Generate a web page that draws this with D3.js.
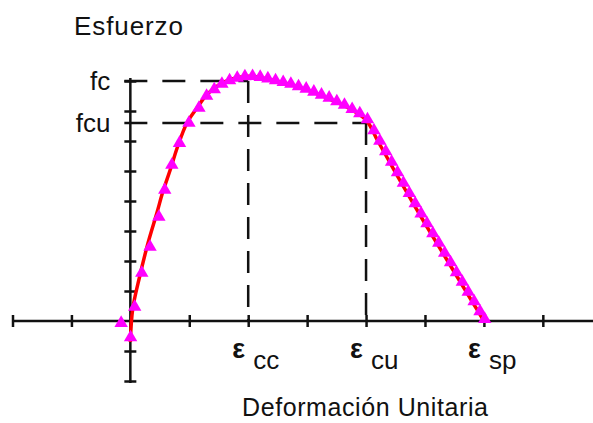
<!DOCTYPE html>
<html>
<head>
<meta charset="utf-8">
<script src="https://cdn.jsdelivr.net/npm/d3@7"></script>
<style>
  html, body { margin: 0; padding: 0; background: #fff; }
  svg { display: block; }
  text { font-family: "Liberation Sans", Arial, sans-serif; fill: #111; }
</style>
</head>
<body>
<svg id="chart" width="593" height="423"></svg>
<script>
// Stress–strain curve of concrete: fitted curve (red) and test points (magenta)
const fitStrain = [0, 0.04, 0.16, 0.3, 0.45, 0.55, 0.67, 0.8, 0.96, 1.13, 1.3, 1.5, 1.7, 1.9, 2.0,
                   2.2, 2.5, 2.8, 3.1, 3.4, 3.7, 4.0, 4.2, 4.4, 4.6, 4.8, 5.0, 5.2, 5.4, 5.6, 5.8, 6.0];
const fitStress = [-0.7, 0.4, 1.5, 2.6, 3.6, 4.3, 5.0, 5.8, 6.6, 7.1, 7.55, 7.87, 8.05, 8.14, 8.16,
                   8.12, 7.99, 7.83, 7.63, 7.38, 7.1, 6.7, 6.0, 5.3, 4.6, 3.92, 3.25, 2.6, 1.95, 1.3, 0.65, 0];

const testStrain = [-0.19, -0.03, 0.04, 0.16, 0.3, 0.45, 0.55, 0.67, 0.8, 0.96, 1.13,
                    1.26, 1.39, 1.52, 1.65, 1.78, 1.91, 2.04, 2.17, 2.3, 2.43, 2.56, 2.69, 2.82,
                    2.95, 3.08, 3.21, 3.34, 3.47, 3.6, 3.73, 3.86, 3.99,
                    4.1, 4.2, 4.3, 4.4, 4.5, 4.6, 4.7, 4.8, 4.9, 5.0, 5.1, 5.2, 5.3, 5.4,
                    5.5, 5.6, 5.7, 5.8, 5.9, 5.98];
const testStress = [-0.07, -0.55, 0.47, 1.6, 2.47, 3.47, 4.37, 5.2, 5.93, 6.6, 7.1,
                    7.5, 7.72, 7.9, 8.02, 8.1, 8.15, 8.16, 8.13, 8.08, 8.02, 7.96, 7.9, 7.82,
                    7.74, 7.64, 7.54, 7.44, 7.32, 7.2, 7.06, 6.92, 6.72,
                    6.35, 6.0, 5.65, 5.3, 4.95, 4.6, 4.26, 3.92, 3.58, 3.25, 2.92, 2.6, 2.27, 1.95,
                    1.62, 1.3, 0.97, 0.65, 0.32, 0.06];

// Axis ticks (unlabelled) and the named reference levels
const xTicks = [-2, -1, 1, 2, 3, 4, 5, 6, 7];
const yTicks = [-2, -1, 1, 2, 3, 4, 5, 6, 7, 8];
const stressNames = ["fc", "fcu"];
const stressValues = [8, 6.6];
const strainSubscripts = ["cc", "cu", "sp"];
const strainValues = [2, 4, 6];
const yTitle = "Esfuerzo";
const xTitle = "Deformación Unitaria";

const svg = d3.select("#chart");
const x = d3.scaleLinear().domain([-2, 6]).range([12.5, 483.9]);
const y = d3.scaleLinear().domain([-2, 8]).range([381, 81]);
const x0 = x(0), y0 = y(0);
const ink = "#111";

// Dashed guides: fc down to εcc, fcu down to εcu
const guides = [
  { sy: stressValues[0], sx: strainValues[0] },
  { sy: stressValues[1], sx: strainValues[1] }
];
guides.forEach(g => {
  svg.append("path")
    .attr("d", `M${x0 - 6},${y(g.sy)}H${x(g.sx)}`)
    .attr("fill", "none").attr("stroke", ink).attr("stroke-width", 2.5)
    .attr("stroke-dasharray", "23,15");
  svg.append("path")
    .attr("d", `M${x(g.sx)},${y(g.sy)}V${y0}`)
    .attr("fill", "none").attr("stroke", ink).attr("stroke-width", 2.5)
    .attr("stroke-dasharray", "22,12");
});

// X axis: crossing ticks, line running to the right edge
const xAxis = svg.append("g").attr("transform", `translate(0,${y0})`)
  .call(d3.axisBottom(x).tickValues(xTicks).tickSize(6).tickSizeOuter(0).tickFormat(""));
xAxis.select(".domain").attr("d", `M${x(-2)},0H593`).attr("stroke", ink).attr("stroke-width", 2.5);
xAxis.selectAll(".tick line").attr("y1", -6).attr("y2", 6).attr("stroke", ink).attr("stroke-width", 2.5);

// Y axis
const yAxis = svg.append("g").attr("transform", `translate(${x0},0)`)
  .call(d3.axisLeft(y).tickValues(yTicks).tickSize(6).tickSizeOuter(0).tickFormat(""));
yAxis.select(".domain").attr("d", `M0,${y(-2.07)}V${y(8.1)}`).attr("stroke", ink).attr("stroke-width", 2.5);
yAxis.selectAll(".tick line").attr("x1", -6).attr("x2", 6).attr("stroke", ink).attr("stroke-width", 2.5);

// Fitted curve
const fit = fitStrain.map((s, i) => [s, fitStress[i]]);
svg.append("path")
  .datum(fit)
  .attr("d", d3.line().x(d => x(d[0])).y(d => y(d[1])).curve(d3.curveCatmullRom))
  .attr("fill", "none").attr("stroke", "#ff0000").attr("stroke-width", 3.5);

// Test points as magenta triangles
const tests = testStrain.map((s, i) => [s, testStress[i]]);
svg.append("g").selectAll("path")
  .data(tests).join("path")
  .attr("transform", d => `translate(${x(d[0]) + 2},${y(d[1])})`)
  .attr("d", d3.symbol().type(d3.symbolTriangle).size(78))
  .attr("fill", "#ff00ff");

// Stress level labels
svg.append("g").selectAll("text")
  .data(stressNames).join("text")
  .attr("x", x0 - 20)
  .attr("y", (d, i) => y(stressValues[i]) + 9)
  .attr("text-anchor", "end")
  .attr("font-size", 26)
  .text(d => d);

// Strain labels: ε with subscript
const sl = svg.append("g").selectAll("g")
  .data(strainSubscripts).join("g")
  .attr("transform", (d, i) => `translate(${x(strainValues[i])},${y0})`);
sl.append("text")
  .attr("x", -16).attr("y", 37)
  .attr("font-size", 27).attr("font-weight", "bold")
  .text("ε");
sl.append("text")
  .attr("x", 5).attr("y", 48)
  .attr("font-size", 26)
  .text(d => d);

// Axis titles
svg.append("text")
  .attr("x", 74).attr("y", 35)
  .attr("font-size", 26).attr("letter-spacing", 0.9)
  .text(yTitle);
svg.append("text")
  .attr("x", 242).attr("y", 416)
  .attr("font-size", 25)
  .attr("textLength", 246).attr("lengthAdjust", "spacing")
  .text(xTitle);
</script>
</body>
</html>
